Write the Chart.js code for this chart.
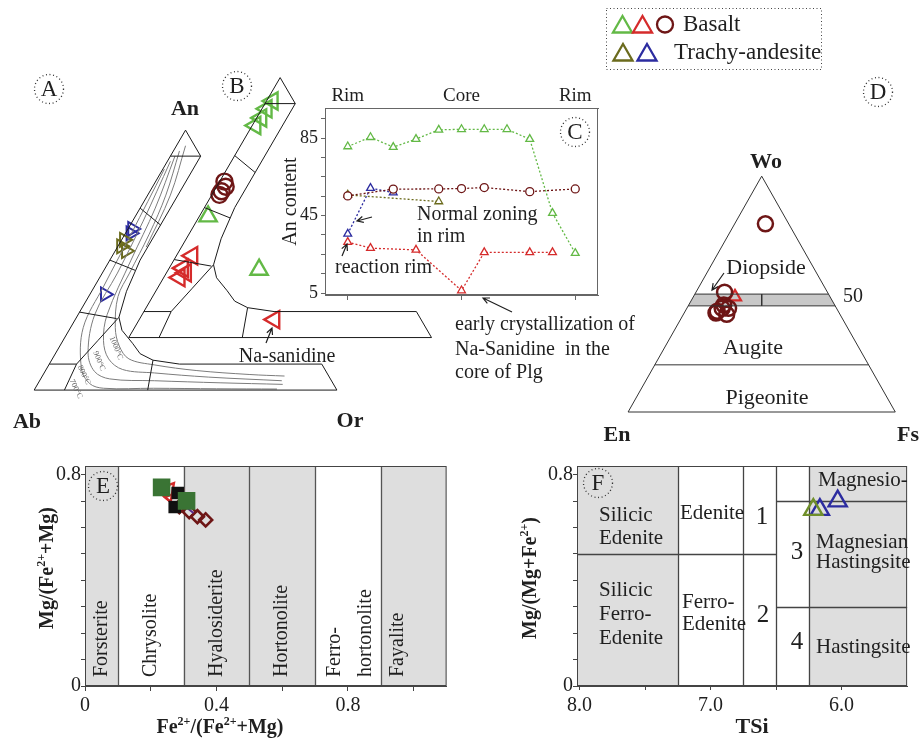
<!DOCTYPE html>
<html>
<head>
<meta charset="utf-8">
<title>Mineral chemistry diagrams</title>
<script src="https://cdn.jsdelivr.net/npm/chart.js@4.4.1/dist/chart.umd.min.js"></script>
<style>
  html, body { margin: 0; padding: 0; background: #fff; }
  body { position: relative; width: 920px; height: 741px; overflow: hidden; }
  canvas { position: absolute; }
</style>
</head>
<body>
<canvas id="feldspar" width="460" height="400" style="left:0;top:40px"></canvas>
<canvas id="zoning" width="380" height="310" style="left:270px;top:82px"></canvas>
<canvas id="pyroxene" width="320" height="450" style="left:600px;top:0"></canvas>
<canvas id="olivine" width="460" height="301" style="left:0;top:440px"></canvas>
<canvas id="amphibole" width="460" height="301" style="left:460px;top:440px"></canvas>
<script>
// shared look
const SERIF = '"Liberation Serif", "Times New Roman", serif';
const INK = '#1f1f1f';
const GREEN = '#63b946';
const RED = '#d52b2b';
const BROWN = '#6e1616';
const OLIVE = '#6b6b1d';
const BLUE = '#2c2ca0';
const SHADE = '#dedede';
const TRI_H = Math.sqrt(3) / 2;

// ---- A / B : feldspar ternary, points are [An, Or] (Ab = rest) ----
const feldFrame = [
  [[0, 0], [1, 0], [0.9, 0.1], [0.5, 0.1], [0.46, 0.105], [0.38, 0.115], [0.28, 0.14]],
  [[0.28, 0.14], [0.23, 0.175], [0.18, 0.235], [0.14, 0.28], [0.115, 0.335], [0.1, 0.43], [0.1, 0.9]],
  [[0.28, 0.14], [0.19, 0.115], [0.1, 0.09], [0, 0.1]],
  [[0, 0], [0, 1], [0.1, 0.9]],
  [[0.9, 0], [0.9, 0.1]],
  [[0.7, 0], [0.635, 0.1]],
  [[0.5, 0], [0.46, 0.105]],
  [[0.3, 0], [0.275, 0.135]],
  [[0.1, 0], [0.1, 0.09]],
  [[0.115, 0.335], [0, 0.375]]
];
const iso1000 = [[0.92, 0.02], [0.75, 0.06], [0.6, 0.08], [0.45, 0.09], [0.36, 0.097], [0.24, 0.148], [0.17, 0.196], [0.12, 0.253], [0.097, 0.348], [0.075, 0.5], [0.06, 0.68], [0.054, 0.8]];
const iso900 = [[0.9, 0.015], [0.7, 0.05], [0.5, 0.07], [0.29, 0.096], [0.19, 0.134], [0.12, 0.186], [0.079, 0.253], [0.066, 0.364], [0.05, 0.55], [0.036, 0.8]];
const iso800 = [[0.88, 0.01], [0.65, 0.035], [0.45, 0.05], [0.29, 0.055], [0.144, 0.106], [0.072, 0.163], [0.043, 0.228], [0.036, 0.379], [0.028, 0.6], [0.022, 0.81]];
const iso700 = [[0.85, 0.005], [0.6, 0.02], [0.4, 0.03], [0.24, 0.042], [0.084, 0.114], [0.025, 0.171], [0.007, 0.226], [0.007, 0.39], [0.005, 0.6], [0.004, 0.8]];
const isoUpper = [[0.94, 0.03], [0.75, 0.075], [0.55, 0.095]];
const isothermNames = ['1000°C', '900°C', '800°C', '700°C'];

const aOlive = [[0.578, 0.008], [0.553, 0.011], [0.535, 0.036]];
const aBlue = [[0.62, 0.014], [0.603, 0.017], [0.368, 0.05]];
const bGreen = [[0.91, 0.02], [0.88, 0.015], [0.845, 0.015], [0.816, 0.01], [0.466, 0.029], [0.261, 0.30]];
const bGreenRot = [-90, -90, -90, -90, 0, 0];
const bBrown = [[0.60, 0.016], [0.58, 0.03], [0.563, 0.025], [0.549, 0.025]];
const bRed = [[0.315, 0.052], [0.267, 0.045], [0.249, 0.064], [0.231, 0.052], [0.069, 0.446]];

// ---- C : An zoning profile across the crystal ----
const zoneX = [0, 1, 2, 3, 4, 5, 6, 7, 8, 9, 10];
const greenAn = [80.7, 85.5, 80.4, 84.5, 89.3, 89.6, 89.6, 89.6, 84.5, 46.3, 25.6];
const brownX = [0, 2, 4, 5, 6, 8, 10];
const brownAn = [55.2, 58.7, 58.8, 59.0, 59.5, 57.4, 58.8];
const oliveX = [0, 4];
const oliveAn = [55.7, 52.3];
const blueX = [0, 1, 2];
const blueAn = [35.6, 59.2, 56.9];
const redX = [0, 1, 3, 5, 6, 8, 9];
const redAn = [31.3, 28.2, 27.3, 6.3, 26.0, 26.0, 26.0];
const zoneTicks = [0, 5, 10];
const zoneTickLabels = ['Rim', 'Core', 'Rim'];
const anTicks = [5, 15, 25, 35, 45, 55, 65, 75, 85, 95];
const anTickLabels = ['5', '', '', '', '45', '', '', '', '85', ''];

// ---- D : pyroxene ternary, points are [Wo, Fs] (En = rest) ----
const pyxFrame = [
  [[0, 0], [0, 1], [1, 0], [0, 0]],
  [[0.5, 0], [0.5, 0.5]],
  [[0.45, 0], [0.45, 0.55]],
  [[0.5, 0.25], [0.45, 0.275]],
  [[0.2, 0], [0.2, 0.8]]
];
const pyxBand = [[0.45, 0], [0.5, 0], [0.5, 0.5], [0.45, 0.55]];
const pyxBrown = [[0.798, 0.115], [0.508, 0.107], [0.427, 0.12], [0.44, 0.132], [0.414, 0.162], [0.454, 0.131], [0.42, 0.119], [0.44, 0.156]];
const pyxRed = [[0.488, 0.156]];

const legendLabels = ['Basalt', 'Trachy-andesite'];
const legendMarks = [
  [['triangle', GREEN], ['triangle', RED], ['circle', BROWN]],
  [['triangle', OLIVE], ['triangle', BLUE]]
];

// ---- E : olivine Fe/(Fe+Mg) classes ----
const olvBounds = [0, 0.1, 0.3, 0.5, 0.7, 0.9, 1.1];
const olvShaded = [1, 0, 1, 1, 0, 1];
const olvNames = [['Forsterite'], ['Chrysolite'], ['Hyalosiderite'], ['Hortonolite'], ['Ferro-', 'hortonolite'], ['Fayalite']];
const olvLabelX = [0.05, 0.2, 0.4, 0.6, 0.8, 0.95];
const olvXTicks = [0, 0.2, 0.4, 0.6, 0.8, 1.0];
const olvXLabels = ['0', '', '0.4', '', '0.8', ''];
const mgTicks = [0, 0.1, 0.2, 0.3, 0.4, 0.5, 0.6, 0.7, 0.8];
const mgLabels = ['0', '', '', '', '', '', '', '', '0.8'];
const olvGreen = [[0.233, 0.752], [0.309, 0.701]];
const olvBlack = [[0.282, 0.731], [0.273, 0.678]];
const olvRed = [[0.249, 0.736], [0.276, 0.708]];
const olvPurple = [[0.285, 0.70], [0.33, 0.655]];
const olvBrown = [[0.287, 0.679], [0.317, 0.66], [0.342, 0.641], [0.367, 0.629]];

// ---- F : amphibole TSi vs Mg/(Mg+Fe2+) ----
const tsiBounds = [8.02, 7.25, 6.75, 6.5, 6.25, 5.5];
const tsiShaded = [1, 0, 0, 0, 1];
const amphSplits = [[8.02, 6.5, 0.5], [6.5, 5.5, 0.7], [6.5, 5.5, 0.3]];
const tsiTicks = [8.0, 7.5, 7.0, 6.5, 6.0];
const tsiLabels = ['8.0', '', '7.0', '', '6.0'];
const amphOlive = [[6.216, 0.668]];
const amphBlue = [[6.166, 0.668], [6.03, 0.70]];

// ---------------- helpers ----------------
const feldA = (an, or) => ({ x: or + an / 2, y: an * TRI_H });
const feldB = (an, or) => ({ x: or + an / 2 + 0.3125, y: an * TRI_H + 0.175 });
const pyxXY = (wo, fs) => ({ x: fs + wo / 2, y: wo * TRI_H });
const plainXY = (x, y) => ({ x, y });

function polylines(lines, fn) {
  const out = [];
  lines.forEach((ln, k) => {
    if (k) out.push({ x: NaN, y: NaN });
    ln.forEach(p => out.push(fn(p[0], p[1])));
  });
  return out;
}
function lineDs(data, color, width, extra) {
  return Object.assign({ data, showLine: true, borderColor: color, borderWidth: width,
    pointRadius: 0, pointHoverRadius: 0, fill: false, clip: false, spanGaps: false }, extra || {});
}
function markDs(data, style, color, radius, extra) {
  return Object.assign({ data, showLine: false, pointStyle: style, pointRadius: radius,
    pointHoverRadius: radius, pointBorderColor: color, borderColor: color,
    pointBackgroundColor: 'rgba(0,0,0,0)', backgroundColor: 'rgba(0,0,0,0)',
    pointBorderWidth: 2, borderWidth: 2, clip: false }, extra || {});
}
function baseOptions(extra) {
  return Object.assign({
    responsive: false, animation: false, devicePixelRatio: 1, events: [],
    plugins: { legend: { display: false }, tooltip: { enabled: false } }
  }, extra);
}
function hiddenScales(xmin, xmax, ymin, ymax) {
  return { x: { type: 'linear', display: false, min: xmin, max: xmax },
           y: { type: 'linear', display: false, min: ymin, max: ymax } };
}
function axis(o) {
  return {
    type: 'linear', position: o.position, min: o.min, max: o.max, reverse: !!o.reverse,
    afterBuildTicks: s => { s.ticks = o.ticks.map(v => ({ value: v })); },
    afterFit: s => { if (o.horizontal) s.height = o.fit; else s.width = o.fit; },
    ticks: { callback: (v, i) => o.labels[i], font: { size: o.size || 20, family: SERIF },
      color: INK, padding: o.pad, autoSkip: false, maxRotation: 0 },
    grid: { drawOnChartArea: false, drawTicks: o.tickLen > 0, tickLength: o.tickLen, color: o.color || '#444' },
    border: { display: true, color: o.color || '#444', width: 1 },
    title: o.title || { display: false }
  };
}
function txt(ctx, s, x, y, o) {
  o = o || {};
  ctx.save();
  ctx.font = (o.bold ? 'bold ' : '') + (o.size || 20) + 'px ' + SERIF;
  ctx.fillStyle = o.color || INK;
  ctx.textAlign = o.align || 'center';
  ctx.textBaseline = 'middle';
  ctx.translate(x, y);
  if (o.rot) ctx.rotate(o.rot * Math.PI / 180);
  ctx.fillText(s, 0, 0);
  ctx.restore();
}
function rich(ctx, parts, x, y, o) {
  const size = o.size || 20, w = o.bold ? 'bold ' : '';
  const fBase = w + size + 'px ' + SERIF, fSup = w + Math.round(size * 0.62) + 'px ' + SERIF;
  ctx.save();
  ctx.translate(x, y);
  if (o.rot) ctx.rotate(o.rot * Math.PI / 180);
  let total = 0;
  parts.forEach(([t, sup]) => { ctx.font = sup ? fSup : fBase; total += ctx.measureText(t).width; });
  let cx = -total / 2;
  ctx.fillStyle = INK; ctx.textAlign = 'left'; ctx.textBaseline = 'alphabetic';
  const base = size * 0.32;
  parts.forEach(([t, sup]) => {
    ctx.font = sup ? fSup : fBase;
    ctx.fillText(t, cx, sup ? base - size * 0.42 : base);
    cx += ctx.measureText(t).width;
  });
  ctx.restore();
}
function arrow(ctx, x1, y1, x2, y2) {
  const a = Math.atan2(y2 - y1, x2 - x1), h = 7;
  ctx.save(); ctx.strokeStyle = INK; ctx.lineWidth = 1.2;
  ctx.beginPath(); ctx.moveTo(x1, y1); ctx.lineTo(x2, y2);
  ctx.moveTo(x2 - h * Math.cos(a - 0.45), y2 - h * Math.sin(a - 0.45));
  ctx.lineTo(x2, y2);
  ctx.lineTo(x2 - h * Math.cos(a + 0.45), y2 - h * Math.sin(a + 0.45));
  ctx.stroke(); ctx.restore();
}
function tag(ctx, s, x, y) {
  ctx.save(); ctx.strokeStyle = '#333'; ctx.lineWidth = 1.3; ctx.setLineDash([1, 2.6]);
  ctx.beginPath(); ctx.arc(x, y, 14.5, 0, Math.PI * 2); ctx.stroke(); ctx.restore();
  txt(ctx, s, x, y + 1, { size: 23 });
}
function marker(ctx, style, x, y, r, color, lw) {
  ctx.save(); ctx.strokeStyle = color; ctx.lineWidth = lw; ctx.beginPath();
  if (style === 'circle') {
    ctx.arc(x, y, r, 0, Math.PI * 2);
  } else {
    for (let k = 0; k < 3; k++) {
      const a = -Math.PI / 2 + k * 2 * Math.PI / 3;
      const px = x + r * Math.cos(a), py = y + r * Math.sin(a);
      if (k) ctx.lineTo(px, py); else ctx.moveTo(px, py);
    }
    ctx.closePath();
  }
  ctx.stroke(); ctx.restore();
}
function frame(ctx, a, color) {
  ctx.save(); ctx.strokeStyle = color; ctx.lineWidth = 1;
  ctx.strokeRect(a.left + 0.5, a.top + 0.5, a.right - a.left - 1, a.bottom - a.top - 1);
  ctx.restore();
}

// ---------------- A / B ----------------
new Chart(document.getElementById('feldspar'), {
  type: 'scatter',
  data: { datasets: [
    lineDs(polylines(feldFrame, feldA), '#1a1a1a', 1),
    ...[iso1000, iso900, iso800, iso700, isoUpper].map(c =>
      lineDs(c.map(p => feldA(p[0], p[1])), '#7c7c7c', 1, { tension: 0.35 })),
    lineDs(polylines(feldFrame, feldB), '#1a1a1a', 1),
    markDs(aOlive.map(p => feldA(p[0], p[1])), 'triangle', OLIVE, 8, { pointRotation: 90 }),
    markDs(aBlue.map(p => feldA(p[0], p[1])), 'triangle', BLUE, 8, { pointRotation: 90 }),
    markDs(bGreen.map(p => feldB(p[0], p[1])), 'triangle', GREEN, 10, { pointRotation: bGreenRot, pointBorderWidth: 2.4 }),
    markDs(bBrown.map(p => feldB(p[0], p[1])), 'circle', BROWN, 8, { pointBorderWidth: 2.4 }),
    markDs(bRed.map(p => feldB(p[0], p[1])), 'triangle', RED, 10, { pointRotation: -90, pointBorderWidth: 2.4 })
  ]},
  options: baseOptions({ scales: hiddenScales(-23 / 320, 437 / 320, -40 / 320, 360 / 320) }),
  plugins: [{
    id: 'feldText',
    afterDraw(chart) {
      const ctx = chart.ctx;
      tag(ctx, 'A', 49, 49);
      tag(ctx, 'B', 237, 46);
      txt(ctx, 'An', 185, 69, { bold: true, size: 22 });
      txt(ctx, 'Ab', 27, 382, { bold: true, size: 22 });
      txt(ctx, 'Or', 350, 381, { bold: true, size: 22 });
      txt(ctx, 'Na-sanidine', 287, 317, { size: 20 });
      arrow(ctx, 266, 303, 272, 288);
      const isoPos = [[116, 308, 68], [99, 321, 68], [84, 335, 64], [76, 349, 64]];
      isothermNames.forEach((s, i) => txt(ctx, s, isoPos[i][0], isoPos[i][1], { size: 8, color: '#666', rot: isoPos[i][2] }));
    }
  }]
});

// ---------------- C ----------------
function zoneDs(xs, ys, color, style) {
  return {
    xAxisID: 'x', yAxisID: 'y',
    data: xs.map((x, i) => ({ x, y: ys[i] })),
    showLine: true, borderColor: color, borderWidth: 1.3, borderDash: [2, 2],
    pointStyle: style, pointRadius: style === 'circle' ? 4 : 4.5, pointBorderColor: color,
    pointBackgroundColor: '#fff', pointBorderWidth: 1.3, clip: false
  };
}
new Chart(document.getElementById('zoning'), {
  type: 'scatter',
  data: { datasets: [
    zoneDs(zoneX, greenAn, GREEN, 'triangle'),
    zoneDs(brownX, brownAn, BROWN, 'circle'),
    Object.assign(markDs(brownX.map((x, i) => ({ x, y: brownAn[i] })), 'circle', BROWN, 1.2,
      { pointBackgroundColor: BROWN, pointBorderWidth: 0 }), { xAxisID: 'x', yAxisID: 'y' }),
    zoneDs(oliveX, oliveAn, OLIVE, 'triangle'),
    zoneDs(blueX, blueAn, BLUE, 'triangle'),
    zoneDs(redX, redAn, RED, 'triangle')
  ]},
  options: baseOptions({
    layout: { padding: { right: 52 } },
    scales: {
      x: axis({ position: 'bottom', horizontal: true, min: -1, max: 11, ticks: zoneTicks,
        labels: ['', '', ''], fit: 97, tickLen: 5, pad: 0, color: '#666' }),
      xTop: axis({ position: 'top', horizontal: true, min: -1, max: 11, ticks: zoneTicks,
        labels: zoneTickLabels, fit: 26, tickLen: 0, pad: 1, size: 19, color: '#666' }),
      y: axis({ position: 'left', min: 4, max: 100.6, ticks: anTicks, labels: anTickLabels,
        fit: 55, tickLen: 4, pad: 3, size: 18, color: '#666',
        title: { display: true, text: 'An content', font: { size: 20, family: SERIF }, color: INK, padding: { top: 9, bottom: 0 } } })
    }
  }),
  plugins: [{
    id: 'zoneText',
    afterDraw(chart) {
      const ctx = chart.ctx, a = chart.chartArea;
      frame(ctx, a, '#666');
      tag(ctx, 'C', 305, 50);
      txt(ctx, 'Normal zoning', 147, 133, { align: 'left' });
      txt(ctx, 'in rim', 147, 155, { align: 'left' });
      arrow(ctx, 102, 135, 87, 139);
      txt(ctx, 'reaction rim', 65, 186, { align: 'left' });
      arrow(ctx, 72, 174, 77, 162);
      txt(ctx, 'early crystallization of', 185, 243, { align: 'left' });
      txt(ctx, 'Na-Sanidine  in the', 185, 268, { align: 'left' });
      txt(ctx, 'core of Plg', 185, 291, { align: 'left' });
      arrow(ctx, 242, 230, 213, 216);
    }
  }]
});

// ---------------- D ----------------
new Chart(document.getElementById('pyroxene'), {
  type: 'scatter',
  data: { datasets: [
    lineDs(polylines(pyxFrame, pyxXY), '#333', 1),
    markDs(pyxBrown.map(p => pyxXY(p[0], p[1])), 'circle', BROWN, 7.5, { pointBorderWidth: 2.5 }),
    markDs(pyxRed.map(p => pyxXY(p[0], p[1])), 'triangle', RED, 7, { pointBorderWidth: 2.2 })
  ]},
  options: baseOptions({ scales: hiddenScales(-19.3 / 285, 300.7 / 285, -29.3 / 285, 420.7 / 285) }),
  plugins: [{
    id: 'pyxText',
    beforeDatasetsDraw(chart) {
      const { ctx, scales: { x, y } } = chart;
      ctx.save(); ctx.fillStyle = '#c8c8c8'; ctx.beginPath();
      pyxBand.forEach((p, k) => {
        const q = pyxXY(p[0], p[1]);
        const px = x.getPixelForValue(q.x), py = y.getPixelForValue(q.y);
        if (k) ctx.lineTo(px, py); else ctx.moveTo(px, py);
      });
      ctx.closePath(); ctx.fill(); ctx.restore();
      txt(ctx, 'Wo', 166, 162, { bold: true, size: 22 });
      txt(ctx, 'En', 17, 435, { bold: true, size: 22 });
      txt(ctx, 'Fs', 308, 435, { bold: true, size: 22 });
      txt(ctx, 'Diopside', 166, 268, { size: 22 });
      txt(ctx, '50', 253, 297, { size: 20 });
      txt(ctx, 'Augite', 153, 348, { size: 22 });
      txt(ctx, 'Pigeonite', 167, 398, { size: 22 });
      arrow(ctx, 124, 273, 112, 290);
      tag(ctx, 'D', 278, 92);
      // legend
      ctx.save(); ctx.strokeStyle = '#444'; ctx.lineWidth = 1; ctx.setLineDash([1, 2.5]);
      ctx.strokeRect(6.5, 8.5, 215, 61); ctx.restore();
      const rowY = [26, 54], rowX = [[22.5, 42.5, 65], [23, 47]], textX = [83, 74];
      legendMarks.forEach((row, r) => {
        row.forEach((m, k) => marker(ctx, m[0], rowX[r][k], m[0] === 'circle' ? rowY[r] - 1.5 : rowY[r] + 1,
          m[0] === 'circle' ? 8 : 11, m[1], 2.3));
        txt(ctx, legendLabels[r], textX[r], rowY[r] - 1, { size: 23, align: 'left' });
      });
    }
  }]
});

// ---------------- E ----------------
new Chart(document.getElementById('olivine'), {
  type: 'scatter',
  data: { datasets: [
    markDs(olvGreen.map(p => plainXY(p[0], p[1])), 'rect', '#3a7434', 11, { pointBackgroundColor: '#3a7434' }),
    markDs(olvBlack.map(p => plainXY(p[0], p[1])), 'rect', '#111', 7.5, { pointBackgroundColor: '#111' }),
    markDs(olvRed.map(p => plainXY(p[0], p[1])), 'triangle', RED, 11, { pointRotation: 160, pointBorderWidth: 2.4 }),
    lineDs(olvPurple.map(p => plainXY(p[0], p[1])), '#5a2a8c', 2),
    markDs(olvBrown.map(p => plainXY(p[0], p[1])), 'rectRot', BROWN, 6.5, { pointBorderWidth: 2.6 })
  ]},
  options: baseOptions({
    layout: { padding: { top: 26, right: 7 } },
    scales: {
      x: axis({ horizontal: true, position: 'bottom', min: 0, max: 1.1, ticks: olvXTicks, labels: olvXLabels, fit: 55, tickLen: 5, pad: 3 }),
      y: axis({ position: 'left', min: 0, max: 0.833, ticks: mgTicks, labels: mgLabels, fit: 85, tickLen: 4, pad: 0 })
    }
  }),
  plugins: [{
    id: 'olvFields',
    beforeDraw(chart) {
      const { ctx, chartArea: a, scales: { x } } = chart;
      ctx.save(); ctx.fillStyle = SHADE;
      olvShaded.forEach((s, i) => {
        if (!s) return;
        const x1 = x.getPixelForValue(olvBounds[i]), x2 = x.getPixelForValue(olvBounds[i + 1]);
        ctx.fillRect(x1, a.top, x2 - x1, a.bottom - a.top);
      });
      ctx.restore();
    },
    beforeDatasetsDraw(chart) {
      const { ctx, chartArea: a, scales: { x } } = chart;
      ctx.save(); ctx.strokeStyle = '#555'; ctx.lineWidth = 1.3; ctx.beginPath();
      olvBounds.slice(1, -1).forEach(v => {
        const px = Math.round(x.getPixelForValue(v)) + 0.5;
        ctx.moveTo(px, a.top); ctx.lineTo(px, a.bottom);
      });
      ctx.stroke(); ctx.restore();
      frame(ctx, a, '#444');
      olvNames.forEach((lines, i) => {
        const cx = x.getPixelForValue(olvLabelX[i]);
        const offs = lines.length === 2 ? [-13, 18] : [0];
        lines.forEach((s, k) => txt(ctx, s, cx + offs[k], a.bottom - 9, { size: 20, rot: -90, align: 'left' }));
      });
      tag(ctx, 'E', 103, 46);
      rich(ctx, [['Mg/(Fe'], ['2+', true], ['+Mg)']], 47, 128, { bold: true, size: 20, rot: -90 });
      rich(ctx, [['Fe'], ['2+', true], ['/(Fe'], ['2+', true], ['+Mg)']], 220, 287, { bold: true, size: 20 });
    }
  }]
});

// ---------------- F ----------------
new Chart(document.getElementById('amphibole'), {
  type: 'scatter',
  data: { datasets: [
    markDs(amphOlive.map(p => plainXY(p[0], p[1])), 'triangle', '#6f8f2a', 10.5, { pointBorderWidth: 2.4 }),
    markDs(amphBlue.map(p => plainXY(p[0], p[1])), 'triangle', BLUE, 10.5, { pointBorderWidth: 2.4 })
  ]},
  options: baseOptions({
    layout: { padding: { top: 26, right: 6 } },
    scales: {
      x: axis({ horizontal: true, position: 'bottom', min: 5.5, max: 8.02, reverse: true, ticks: tsiTicks, labels: tsiLabels, fit: 55, tickLen: 4, pad: 4 }),
      y: axis({ position: 'left', min: 0, max: 0.833, ticks: mgTicks, labels: mgLabels, fit: 117, tickLen: 4, pad: 0 })
    }
  }),
  plugins: [{
    id: 'amphFields',
    beforeDraw(chart) {
      const { ctx, chartArea: a, scales: { x } } = chart;
      ctx.save(); ctx.fillStyle = SHADE;
      tsiShaded.forEach((s, i) => {
        if (!s) return;
        const x1 = x.getPixelForValue(tsiBounds[i]), x2 = x.getPixelForValue(tsiBounds[i + 1]);
        ctx.fillRect(Math.min(x1, x2), a.top, Math.abs(x2 - x1), a.bottom - a.top);
      });
      ctx.restore();
    },
    beforeDatasetsDraw(chart) {
      const { ctx, chartArea: a, scales: { x, y } } = chart;
      ctx.save(); ctx.strokeStyle = '#444'; ctx.lineWidth = 1.3; ctx.beginPath();
      tsiBounds.slice(1, -1).forEach(v => {
        const px = Math.round(x.getPixelForValue(v)) + 0.5;
        ctx.moveTo(px, a.top); ctx.lineTo(px, a.bottom);
      });
      amphSplits.forEach(([x1, x2, v]) => {
        const py = Math.round(y.getPixelForValue(v)) + 0.5;
        ctx.moveTo(x.getPixelForValue(x1), py); ctx.lineTo(x.getPixelForValue(x2), py);
      });
      ctx.stroke(); ctx.restore();
      frame(ctx, a, '#444');
      const L = { size: 21, align: 'left' };
      txt(ctx, 'Silicic', 139, 75, L); txt(ctx, 'Edenite', 139, 98, L);
      txt(ctx, 'Silicic', 139, 150, L); txt(ctx, 'Ferro-', 139, 174, L); txt(ctx, 'Edenite', 139, 198, L);
      txt(ctx, 'Edenite', 220, 73, L);
      txt(ctx, 'Ferro-', 222, 162, L); txt(ctx, 'Edenite', 222, 184, L);
      txt(ctx, '1', 302, 77, { size: 25 }); txt(ctx, '2', 303, 175, { size: 25 });
      txt(ctx, '3', 337, 112, { size: 25 }); txt(ctx, '4', 337, 202, { size: 25 });
      txt(ctx, 'Magnesio-', 358, 40, L);
      txt(ctx, 'Magnesian', 356, 102, L); txt(ctx, 'Hastingsite', 356, 122, L);
      txt(ctx, 'Hastingsite', 356, 207, L);
      tag(ctx, 'F', 138, 43);
      rich(ctx, [['Mg/(Mg+Fe'], ['2+', true], [')']], 70, 138, { bold: true, size: 20, rot: -90 });
      txt(ctx, 'TSi', 292, 287, { bold: true, size: 22 });
    }
  }]
});
</script>
</body>
</html>
